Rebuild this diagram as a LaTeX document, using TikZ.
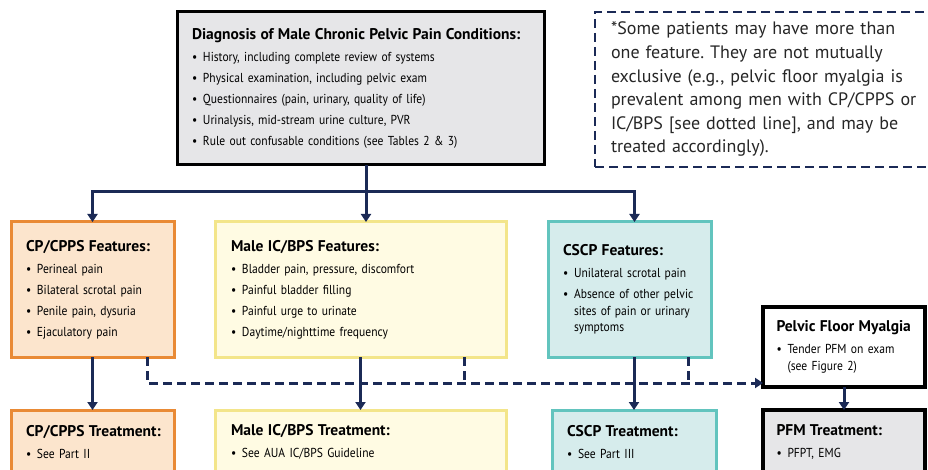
\documentclass[tikz,border=0pt]{standalone}
\usepackage{fontspec}
\setmainfont{PT Sans}
\newfontfamily\boxfont{PT Sans}[FakeStretch=0.89]
\frenchspacing
\usetikzlibrary{arrows.meta}

\definecolor{navy}{HTML}{1B2A56}
\definecolor{cpline}{HTML}{E98A35}
\definecolor{cpfill}{HTML}{FCE5CD}
\definecolor{icline}{HTML}{F3E58A}
\definecolor{icfill}{HTML}{FFFBE3}
\definecolor{csline}{HTML}{62C4BE}
\definecolor{csfill}{HTML}{D6ECEC}
\definecolor{boxgray}{HTML}{E6E6E8}

\newcommand{\bl}{\makebox[11pt][l]{\textbullet}}
\newcommand{\ind}{\hspace*{11pt}}
\newcommand{\hd}[1]{\mbox{\rmfamily\fontsize{15.5}{16.5}\selectfont\bfseries #1}\\[5.5pt]}

\begin{document}
\begin{tikzpicture}[x=1pt, y=-1pt,
            every node/.style = {inner sep=0pt, outer sep=0pt},
            box/.style = {draw, line width=3pt, anchor=north west, align=left,
                          font=\boxfont\fontsize{13}{16.5}\selectfont},
            link/.style = {draw=navy, line width=3pt},
            arrow/.style = {link, -{Triangle[width=10pt,length=8pt]}},
            dashlink/.style = {arrow, dash pattern=on 9pt off 5pt}]
            \useasboundingbox (0,0) rectangle (928,470);
            % top row
            \node[box, fill=boxgray, minimum width=367pt, minimum height=153pt,
                  text width=337pt] (diag) at (177,12) {%
                \hd{Diagnosis of Male Chronic Pelvic Pain Conditions:}
                \bl History, including complete review of systems\\[4.5pt]
                \bl Physical examination, including pelvic exam\\[4.5pt]
                \bl Questionnaires (pain, urinary, quality of life)\\[4.5pt]
                \bl Urinalysis, mid-stream urine culture, PVR\\[4.5pt]
                \bl Rule out confusable conditions (see Tables 2 \& 3)};
            \node[box, draw=navy, line width=2.5pt, dash pattern=on 9pt off 5pt,
                  minimum width=360pt, minimum height=155pt, text width=328pt,
                  font=\rmfamily\fontsize{18}{23.6}\selectfont, text=black!85] (note) at (595,12) {%
                *Some patients may have more than\\
                one feature. They are not mutually\\
                exclusive (e.g., pelvic floor myalgia is\\
                prevalent among men with CP/CPPS or\\
                IC/BPS [see dotted line], and may be\\
                treated accordingly).};
            % features
            \node[box, draw=cpline, fill=cpfill, minimum width=163pt, minimum height=135pt,
                  text width=133pt] (cpf) at (11,222) {%
                \hd{CP/CPPS Features:}
                \bl Perineal pain\\[4.5pt]
                \bl Bilateral scrotal pain\\[4.5pt]
                \bl Penile pain, dysuria\\[4.5pt]
                \bl Ejaculatory pain};
            \node[box, draw=icline, fill=icfill, minimum width=291pt, minimum height=135pt,
                  text width=259pt] (icf) at (215,222) {%
                \hd{Male IC/BPS Features:}
                \bl Bladder pain, pressure, discomfort\\[4.5pt]
                \bl Painful bladder filling\\[4.5pt]
                \bl Painful urge to urinate\\[4.5pt]
                \bl Daytime/nighttime frequency};
            \node[box, draw=csline, fill=csfill, minimum width=163pt, minimum height=135pt,
                  text width=133pt] (csf) at (548,222) {%
                \hd{CSCP Features:}
                \bl Unilateral scrotal pain\\[4.5pt]
                \bl Absence of other pelvic\\
                \ind sites of pain or urinary\\
                \ind symptoms};
            \node[box, line width=4pt, fill=white, minimum width=162pt, minimum height=80pt,
                  text width=135pt] (pfm) at (763,307) {%
                \hd{Pelvic Floor Myalgia}
                \bl Tender PFM on exam\\
                \ind (see Figure 2)};
            % treatments
            \node[box, draw=cpline, fill=cpfill, minimum width=163pt, minimum height=64pt,
                  text width=133pt] (cpt) at (11,410) {%
                \hd{CP/CPPS Treatment:}
                \bl See Part II};
            \node[box, draw=icline, fill=icfill, minimum width=291pt, minimum height=64pt,
                  text width=259pt] (ict) at (215,410) {%
                \hd{Male IC/BPS Treatment:}
                \bl See AUA IC/BPS Guideline};
            \node[box, draw=csline, fill=csfill, minimum width=164pt, minimum height=64pt,
                  text width=134pt] (cst) at (552,410) {%
                \hd{CSCP Treatment:}
                \bl See Part III};
            \node[box, line width=4pt, fill=boxgray, minimum width=162pt, minimum height=64pt,
                  text width=135pt] (pfmt) at (763,410) {%
                \hd{PFM Treatment:}
                \bl PFPT, EMG};
            % connectors
            \coordinate (split) at (366,192);
            \coordinate (dash) at (147,383);
            \draw[link] (diag.south -| split) -- (split);
            \draw[arrow] (split) -| (cpf.north);
            \draw[arrow] (split) -- (icf.north -| split);
            \draw[arrow] (split) -| ([xshift=5pt]csf.north);
            \draw[arrow] (cpf) -- (cpt);
            \draw[arrow] (icf) -- (ict);
            \draw[arrow] (csf.south -| cst) -- (cst);
            \draw[arrow] (pfm) -- (pfmt);
            \draw[dashlink] (cpf.south -| dash) -- (dash) -- (dash -| pfm.west);
            \draw[link, dash pattern=on 9pt off 5pt] (icf.south -| 464,0) -- (464,383);
            \draw[link, dash pattern=on 9pt off 5pt] (csf.south -| 688,0) -- (688,383);
        \end{tikzpicture}
\end{document}
